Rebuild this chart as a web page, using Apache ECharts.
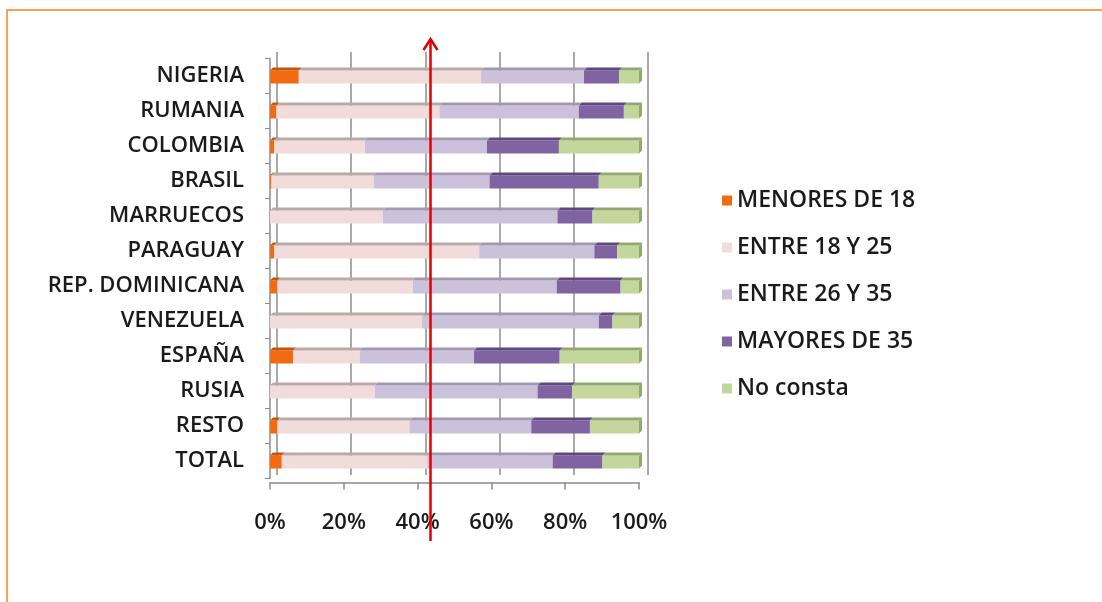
<!DOCTYPE html>
<html>
<head>
<meta charset="utf-8">
<script src="https://cdn.jsdelivr.net/npm/echarts@6/dist/echarts.min.js"></script>
<style>
html,body{margin:0;padding:0;background:#fff;}
#c{width:1102px;height:602px;}
</style>
</head>
<body>
<div id="c"></div>
<script>
const categories = ['NIGERIA','RUMANIA','COLOMBIA','BRASIL','MARRUECOS','PARAGUAY','REP. DOMINICANA','VENEZUELA','ESPAÑA','RUSIA','RESTO','TOTAL'];
const seriesNames = ['MENORES DE 18','ENTRE 18 Y 25','ENTRE 26 Y 35','MAYORES DE 35','No consta'];
const menores18 = [7.8, 1.7, 1.1, 0.4, 0.0, 1.1, 2.0, 0.0, 6.3, 0.0, 2.0, 3.2];
const entre18y25 = [49.4, 44.2, 24.6, 27.7, 30.6, 55.6, 36.7, 41.2, 18.0, 28.4, 35.8, 39.4];
const entre26y35 = [27.9, 37.8, 33.1, 31.4, 47.3, 31.2, 39.0, 47.9, 31.0, 44.1, 33.0, 34.0];
const mayores35 = [9.5, 12.2, 19.5, 29.6, 9.5, 6.2, 17.3, 3.7, 23.2, 9.4, 15.9, 13.5];
const noConsta = [5.4, 4.1, 21.7, 10.9, 12.6, 5.9, 5.0, 7.2, 21.5, 18.1, 13.3, 9.9];
const xTicks = [0, 20, 40, 60, 80, 100];
const arrowValue = 43.5;

const values = [menores18, entre18y25, entre26y35, mayores35, noConsta];
const colors = ['#F26B10', '#F2DCDB', '#CCC1DA', '#8064A2', '#C3D69B'];
const topColors = ['#C4550A', '#B9A9A8', '#A397B3', '#5E4880', '#93A86E'];

// cumulative starts
const cum = categories.map(() => 0);
const seriesData = values.map(arr => arr.map((v, i) => {
  const s = cum[i]; cum[i] += v; return [s, s + v, i];
}));

const H = 13, D = 3;
function makeRender(si) {
  return function (params, api) {
    const s = api.value(0), e = api.value(1), c = api.value(2);
    if (e - s <= 0.01) return null;
    const p0 = api.coord([s, c]);
    const p1 = api.coord([e, c]);
    const x0 = p0[0], x1 = p1[0];
    const yTop = p0[1] - H / 2 + 1;
    const children = [
      { type: 'rect', shape: { x: x0, y: yTop, width: x1 - x0, height: H }, style: { fill: colors[si] } },
      { type: 'polygon', shape: { points: [[x0, yTop], [x1, yTop], [x1 + D, yTop - D], [x0 + D, yTop - D]] }, style: { fill: topColors[si] } }
    ];
    if (si === values.length - 1) {
      children.push({ type: 'polygon', shape: { points: [[x1, yTop], [x1 + D, yTop - D], [x1 + D, yTop - D + H], [x1, yTop + H]] }, style: { fill: topColors[si] } });
    }
    return { type: 'group', children };
  };
}

const FONT = '"Open Sans"';
const chart = echarts.init(document.getElementById('c'));
const option = {
  animation: false,
  backgroundColor: '#fff',
  grid: [
    { left: 270, right: 463, top: 58.5, bottom: 123.5 },
    { left: 277, right: 454, top: 52, bottom: 127 }
  ],
  xAxis: [
    {
      type: 'value', gridIndex: 0, min: 0, max: 100, interval: 20, offset: 4,
      axisLine: { show: true, lineStyle: { color: '#8c8c8c', width: 1.5 } },
      axisTick: { show: true, length: 7, lineStyle: { color: '#8c8c8c', width: 1.5 } },
      splitLine: { show: false },
      axisLabel: { formatter: '{value}%', fontFamily: FONT, fontSize: 22, fontWeight: 600, color: '#1a1a1a', margin: 29 }
    },
    {
      type: 'value', gridIndex: 1, min: 0, max: 100, interval: 20,
      axisLine: { show: false }, axisTick: { show: false }, axisLabel: { show: false },
      splitLine: { show: true, lineStyle: { color: '#8c8c8c', width: 1.5 } }
    }
  ],
  yAxis: [
    {
      type: 'category', gridIndex: 0, data: categories, inverse: true, offset: 5,
      axisLine: { show: true, lineStyle: { color: '#8c8c8c', width: 1.5 } },
      axisTick: { show: true, length: 5, lineStyle: { color: '#8c8c8c' } },
      axisLabel: { fontFamily: FONT, fontSize: 22, fontWeight: 600, color: '#1a1a1a', margin: 21 }
    },
    { type: 'category', gridIndex: 1, data: categories, inverse: true, show: false }
  ],
  legend: {
    orient: 'vertical', left: 722, top: 189, padding: 0, itemWidth: 10, itemHeight: 10, itemGap: 24,
    icon: 'rect',
    textStyle: { fontFamily: FONT, fontSize: 23, fontWeight: 600, lineHeight: 23, color: '#1a1a1a' },
    data: seriesNames
  },
  series: seriesNames.map((name, si) => ({
    type: 'custom', name, xAxisIndex: 0, yAxisIndex: 0,
    itemStyle: { color: colors[si] },
    renderItem: makeRender(si),
    encode: { x: [0, 1], y: 2 },
    data: seriesData[si]
  }))
};
chart.setOption(option);

const ax = chart.convertToPixel({ xAxisIndex: 0 }, arrowValue);
chart.setOption({
  graphic: [
    { type: 'rect', shape: { x: 7, y: 10, width: 1200, height: 700 }, style: { fill: 'none', stroke: '#F9A05A', lineWidth: 2 }, silent: true },
    { type: 'line', shape: { x1: ax, y1: 541, x2: ax, y2: 40 }, style: { stroke: '#E00000', lineWidth: 2.5 }, z: 100 },
    { type: 'polyline', shape: { points: [[ax - 7, 50], [ax, 39], [ax + 7, 50]] }, style: { stroke: '#E00000', lineWidth: 2.5, fill: 'none' }, z: 100 }
  ]
});
</script>
</body>
</html>
